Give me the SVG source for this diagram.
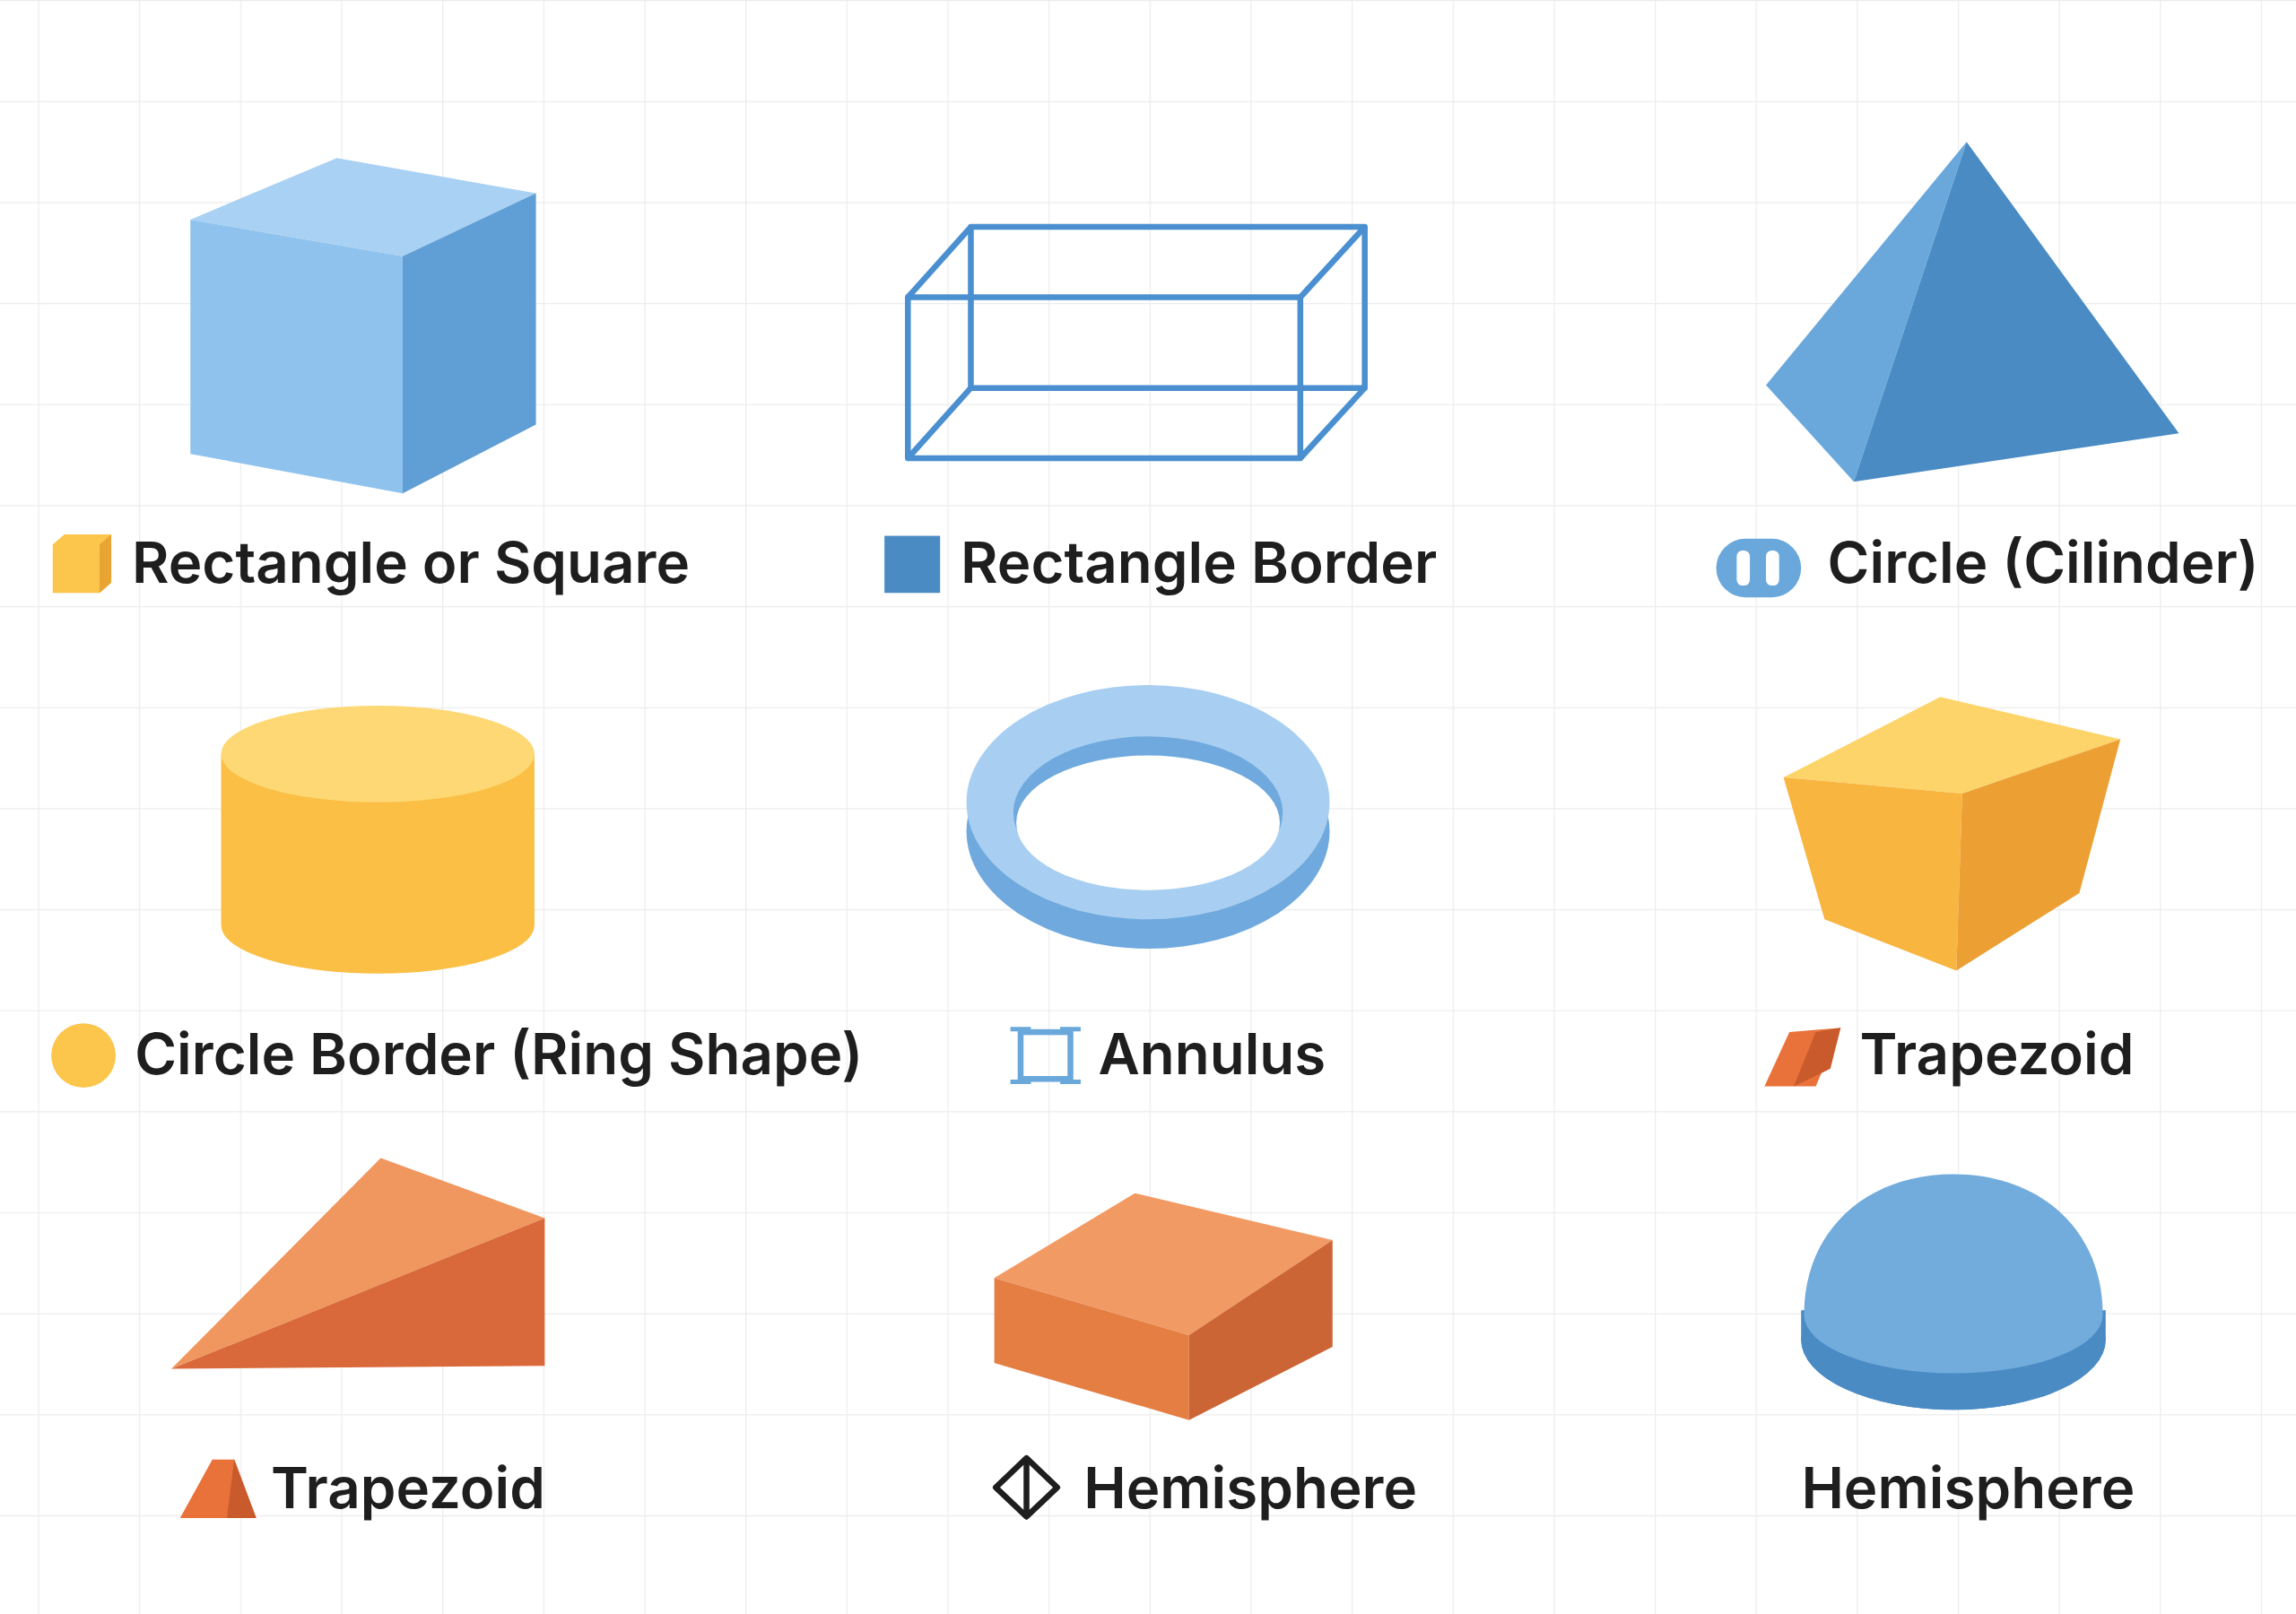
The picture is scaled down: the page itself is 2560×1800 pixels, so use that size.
<svg xmlns="http://www.w3.org/2000/svg" width="2560" height="1800" viewBox="0 0 2560 1800">
<defs>
<pattern id="grid" width="69" height="69" patternUnits="userSpaceOnUse" x="26" y="0">
<path d="M0 0V69M0 0H69" fill="none" stroke="#ececec" stroke-width="1.5"/>
</pattern>
<style>
.lbl{font-family:Inter,"Liberation Sans",sans-serif;font-size:39px;font-weight:600;fill:#1e1e1e}
.wire{fill:none;stroke:#4a8fd0;stroke-width:4;stroke-linejoin:round}
</style>
</defs>
<rect width="2560" height="1800" fill="#fff"/>
<g transform="scale(1.6327)">
<rect width="1568" height="1103" fill="url(#grid)"/>
<g id="cube">
<polygon points="130,150 230,108 366,132 275,175" fill="#a9d1f3"/>
<polygon points="130,150 275,175 275,337 130,310" fill="#8fc3ee"/>
<polygon points="275,175 366,132 366,290 275,337" fill="#5f9fd5"/>
<polygon points="36,372 44,365 76,365 76,398 68,405 36,405" fill="#fcc54c"/>
<polygon points="68,372 76,365 76,398 68,405" fill="#e9a534"/>
<text class="lbl" x="90" y="398">Rectangle or Square</text>
</g>
<g id="wirebox">
<rect class="wire" x="663" y="155" width="269" height="110"/>
<rect class="wire" x="620" y="203" width="268" height="110"/>
<path class="wire" d="M620 203L663 155M888 203L932 155M620 313L663 265M888 313L932 265"/>
<rect x="604" y="366" width="38" height="39" fill="#4a8bc4"/>
<text class="lbl" x="656" y="398">Rectangle Border</text>
</g>
<g id="pyramid">
<polygon points="1343,97 1206,263 1266,329" fill="#6aa8dc"/>
<polygon points="1343,97 1266,329 1488,296" fill="#4a8bc4"/>
<rect x="1172" y="368" width="58" height="40" rx="20" fill="#6aa8dc"/>
<rect x="1186" y="376" width="9" height="24" rx="4" fill="#fff"/>
<rect x="1206" y="376" width="9" height="24" rx="4" fill="#fff"/>
<text class="lbl" x="1248" y="398">Circle (Cilinder)</text>
</g>
<g id="cylinder">
<path d="M151 515V632A107 33 0 0 0 365 632V515Z" fill="#fbbf45"/>
<ellipse cx="258" cy="515" rx="107" ry="33" fill="#fdd874"/>
<circle cx="57" cy="721" r="22" fill="#fcc54c"/>
<text class="lbl" x="92" y="734">Circle Border (Ring Shape)</text>
</g>
<g id="ring">
<ellipse cx="784" cy="568" rx="124" ry="80" fill="#6fa9dd"/>
<ellipse cx="784" cy="548" rx="124" ry="80" fill="#a8cff1"/>
<ellipse cx="784" cy="555" rx="92" ry="52" fill="#6fa9dd"/>
<ellipse cx="784" cy="562" rx="90" ry="46" fill="#fff"/>
<rect x="697" y="705" width="34" height="32" fill="none" stroke="#6aa8dc" stroke-width="4"/>
<path d="M690 703h14M724 703h14M690 739h14M724 739h14" stroke="#6aa8dc" stroke-width="3"/>
<text class="lbl" x="750" y="734">Annulus</text>
</g>
<g id="trapyellow">
<polygon points="1218,531 1325,476 1448,505 1340,542" fill="#fdd46a"/>
<polygon points="1218,531 1340,542 1336,663 1246,628" fill="#f8b540"/>
<polygon points="1340,542 1448,505 1420,610 1336,663" fill="#eca034"/>
<polygon points="1205,742 1222,705 1257,702 1240,742" fill="#e9713a"/>
<polygon points="1225,742 1240,705 1257,702 1250,730" fill="#c85a2b"/>
<text class="lbl" x="1270" y="734">Trapezoid</text>
</g>
<g id="wedge">
<polygon points="117,935 260,791 372,832" fill="#f0965f"/>
<polygon points="117,935 372,832 372,933" fill="#d9693a"/>
<polygon points="123,1037 145,997 160,997 175,1037" fill="#e9713a"/>
<polygon points="155,1037 160,997 175,1037" fill="#c85a2b"/>
<text class="lbl" x="185" y="1030">Trapezoid</text>
</g>
<g id="box">
<polygon points="679,873 775,815 910,847 812,912" fill="#f29a64"/>
<polygon points="679,873 812,912 812,970 679,931" fill="#e47e43"/>
<polygon points="812,912 910,847 910,920 812,970" fill="#cc6535"/>
<polygon points="701,996 722,1016 701,1036 680,1016" fill="none" stroke="#1e1e1e" stroke-width="4" stroke-linejoin="round"/>
<line x1="701" y1="996" x2="701" y2="1036" stroke="#1e1e1e" stroke-width="4"/>
<text class="lbl" x="740" y="1030">Hemisphere</text>
</g>
<g id="hemisphere">
<path d="M1230 895V915A104 48 0 0 0 1438 915V895Z" fill="#4a8bc4"/>
<ellipse cx="1334" cy="915" rx="104" ry="48" fill="#4a8bc4"/>
<path d="M1232 898C1232 840 1275 802 1334 802C1393 802 1436 840 1436 898A102 40 0 0 1 1232 898Z" fill="#72acdd"/>
<text class="lbl" x="1344" y="1030" text-anchor="middle">Hemisphere</text>
</g>
</g>
</svg>
